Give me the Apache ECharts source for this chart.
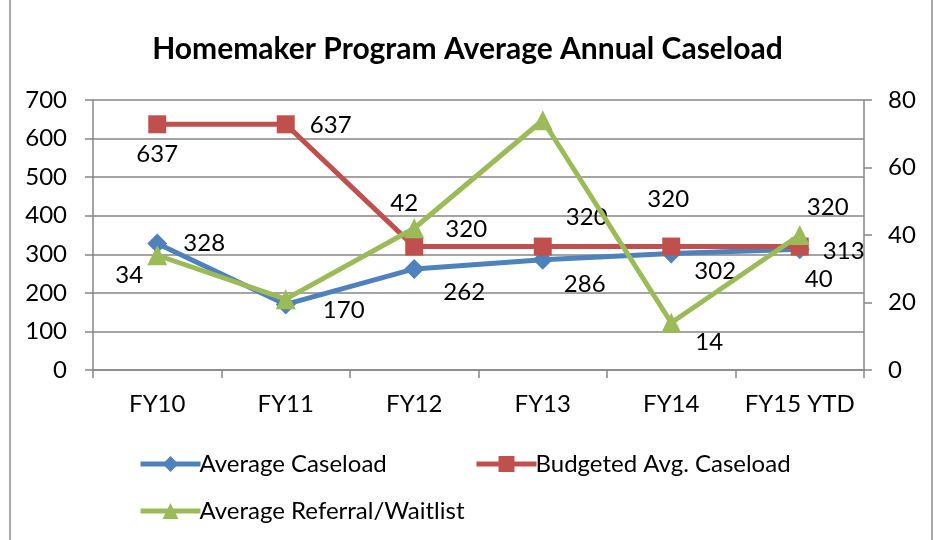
<!DOCTYPE html>
<html><head><meta charset="utf-8">
<script src="https://cdn.jsdelivr.net/npm/echarts@6/dist/echarts.min.js"></script>
<style>html,body{margin:0;padding:0;background:#fff}#c{width:935px;height:540px}</style>
</head><body><div id="c"></div>
<script>
const categories = ['FY10','FY11','FY12','FY13','FY14','FY15 YTD'];
const avgCaseload = [328, 170, 262, 286, 302, 313];
const budgetedCaseload = [637, 637, 320, 320, 320, 320];
const referralWaitlist = [34, 21, 42, 74, 14, 40];
const leftTicks = [0, 700, 100];
const rightTicks = [0, 80, 20];
const title = 'Homemaker Program Average Annual Caseload';

const FONT = 'Lato';
const FS = 24;
const blue = '#4F81BD', red = '#C0504D', green = '#9BBB59';

// label offsets (dx, dy) relative to points, show flags
const avgOff = [[47,0],[58,6],[50,23],[42,25],[44,18],[44,2]];
const budOff = [[0,30],[45,1],[52,-17],[44,-29],[-3,-47],[28,-39]];
const refOff = [[-28,20],[0,0],[-10,-25],[0,0],[38,20],[19,44]];
const refShow = [true,false,true,false,true,true];

function mk(vals, offs, shows){
  return vals.map((v,i)=>({value:v,label:{show: shows? shows[i]:true, offset:offs[i]}}));
}
const lbl = {show:true, position:'inside', color:'#000', fontFamily:FONT, fontSize:FS};
const legText = {fontFamily:FONT,fontSize:FS,color:'#000',padding:[0,0,0,-6]};
const legBase = {itemWidth:60,itemHeight:20,textStyle:legText,lineStyle:{width:5}};

const chart = echarts.init(document.getElementById('c'));
chart.setOption({
  animation:false,
  backgroundColor:'#fff',
  title:{text:title,left:'center',top:29,textStyle:{fontFamily:FONT,fontSize:30,fontWeight:'bold',color:'#000'}},
  graphic:[{type:'rect',shape:{x:10,y:-5,width:922,height:550},style:{fill:'none',stroke:'#8c8c8c',lineWidth:1.5},silent:true}],
  grid:{left:93,right:71,top:100,bottom:170},
  legend:[
    Object.assign({data:['Average Caseload'],left:133,top:447},legBase),
    Object.assign({data:['Budgeted Avg. Caseload'],left:469,top:447},legBase),
    Object.assign({data:['Average Referral/Waitlist'],left:133,top:494},legBase)
  ],
  xAxis:{type:'category',data:categories,boundaryGap:true,
    axisLine:{lineStyle:{color:'#868686',width:1.5}},
    axisTick:{show:true,length:8,interval:0,lineStyle:{color:'#868686',width:1.5}},
    axisLabel:{interval:0,color:'#000',fontFamily:FONT,fontSize:FS,margin:22}},
  yAxis:[
    {type:'value',min:leftTicks[0],max:leftTicks[1],interval:leftTicks[2],position:'left',
     axisLine:{show:true,lineStyle:{color:'#868686',width:1.5}},
     axisTick:{show:true,length:8,lineStyle:{color:'#868686',width:1.5}},
     splitLine:{lineStyle:{color:'#868686',width:1.5}},
     axisLabel:{color:'#000',fontFamily:FONT,fontSize:FS,margin:26}},
    {type:'value',min:rightTicks[0],max:rightTicks[1],interval:rightTicks[2],position:'right',
     axisLine:{show:true,lineStyle:{color:'#868686',width:1.5}},
     axisTick:{show:true,length:8,lineStyle:{color:'#868686',width:1.5}},
     splitLine:{show:false},
     axisLabel:{color:'#000',fontFamily:FONT,fontSize:FS,margin:24}}
  ],
  series:[
    {name:'Average Caseload',type:'line',yAxisIndex:0,data:mk(avgCaseload,avgOff),
     symbol:'diamond',symbolSize:20,lineStyle:{color:blue,width:5},itemStyle:{color:blue},label:lbl,z:3},
    {name:'Budgeted Avg. Caseload',type:'line',yAxisIndex:0,data:mk(budgetedCaseload,budOff),
     symbol:'rect',symbolSize:18,lineStyle:{color:red,width:5},itemStyle:{color:red},label:lbl,z:4},
    {name:'Average Referral/Waitlist',type:'line',yAxisIndex:1,data:mk(referralWaitlist,refOff,refShow),
     symbol:'triangle',symbolSize:20,lineStyle:{color:green,width:5},itemStyle:{color:green},label:lbl,z:5}
  ]
});
</script></body></html>
